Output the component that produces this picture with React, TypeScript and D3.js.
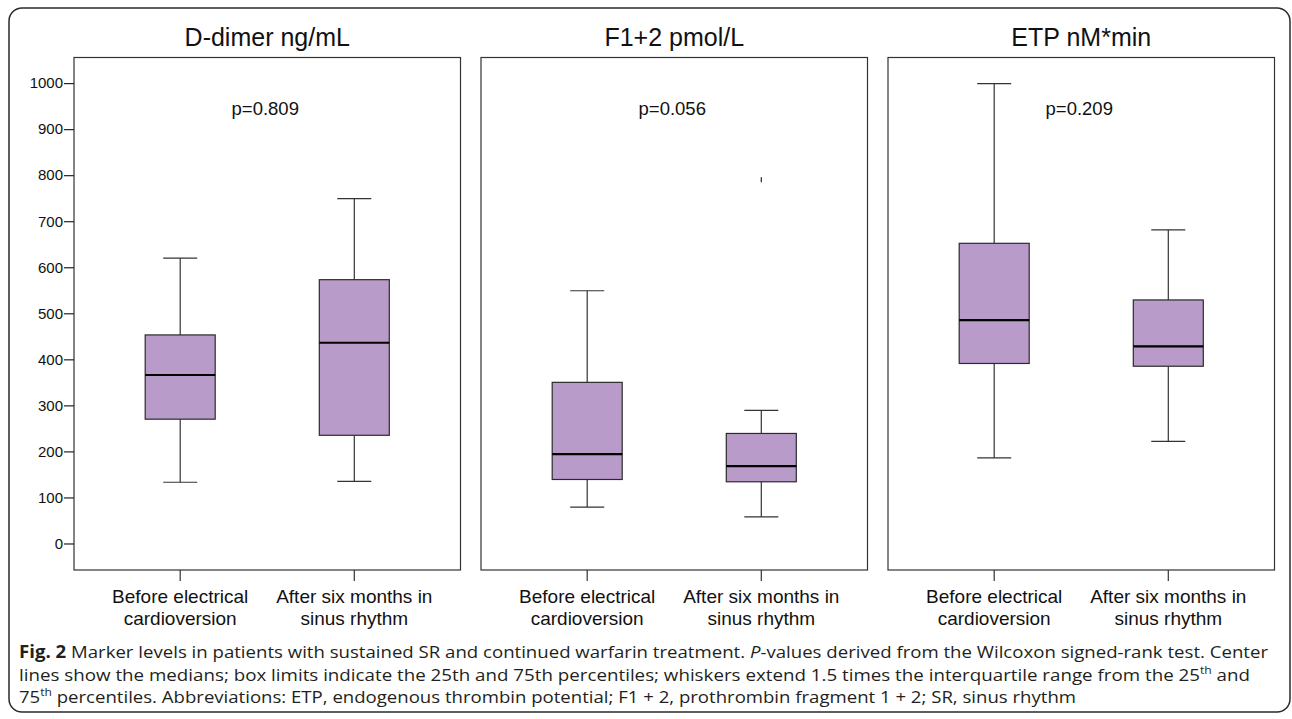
import React, { useEffect, useRef } from 'react';
import * as d3 from 'd3';

// Chart data
const panelTitles = ["D-dimer ng/mL", "F1+2 pmol/L", "ETP nM*min"];
const pValues = ["p=0.809", "p=0.056", "p=0.209"];
const groups = ["Before", "After"];
const groupLabels = [["Before electrical", "cardioversion"], ["After six months in", "sinus rhythm"]];

const whiskerLow = [[133, 135], [79, 58], [186, 222]];
const q1 = [[270, 235], [139, 134], [391, 385]];
const median = [[366, 436], [194, 168], [485, 428]];
const q3 = [[453, 573], [350, 239], [652, 529]];
const whiskerHigh = [[620, 749], [549, 289], [999, 681]];
const outliers = [[[], []], [[], [790]], [[], []]];

const yTicks = [0, 100, 200, 300, 400, 500, 600, 700, 800, 900, 1000];

function App() {
    const d3Container = useRef(null);

    useEffect(() => {
        if (!d3Container.current) return;
        d3.select(d3Container.current).selectAll("*").remove();

        const width = 1292, height = 719;
        const font = "'Liberation Sans', Arial, Helvetica, sans-serif";

        const svg = d3.select(d3Container.current)
            .append("svg")
            .attr("width", width)
            .attr("height", height)
            .style("display", "block");

        // outer rounded frame
        svg.append("rect")
            .attr("x", 9).attr("y", 8)
            .attr("width", 1281).attr("height", 704)
            .attr("rx", 13)
            .attr("fill", "none")
            .attr("stroke", "#2a2a2a")
            .attr("stroke-width", 1.5);

        // shared y scale
        const plotTop = 57.5, plotBottom = 570;
        const y = d3.scaleLinear().domain([-57.6, 1055.6]).range([plotBottom, plotTop]);

        const panelW = 386.5, gap = 20.5, firstLeft = 74;
        const boxW = 70, capW = 34;

        panelTitles.forEach((title, p) => {
            const left = firstLeft + p * (panelW + gap);
            const x = d3.scalePoint().domain(groups).range([left, left + panelW]).padding(0.61);
            const g = svg.append("g");
            const cx = left + panelW / 2;

            g.append("text")
                .attr("x", cx).attr("y", 46)
                .attr("text-anchor", "middle")
                .attr("font-family", font)
                .attr("font-size", 25)
                .attr("fill", "#111")
                .text(title);

            g.append("text")
                .attr("x", cx - 2).attr("y", 115)
                .attr("text-anchor", "middle")
                .attr("font-family", font)
                .attr("font-size", 18.5)
                .attr("fill", "#111")
                .text(pValues[p]);

            // plot frame
            g.append("rect")
                .attr("x", left).attr("y", plotTop)
                .attr("width", panelW).attr("height", plotBottom - plotTop)
                .attr("fill", "none")
                .attr("stroke", "#333")
                .attr("stroke-width", 1.2);

            // x ticks + labels
            groups.forEach((grp, i) => {
                const gx = x(grp);
                g.append("line")
                    .attr("x1", gx).attr("x2", gx)
                    .attr("y1", plotBottom).attr("y2", plotBottom + 11)
                    .attr("stroke", "#333").attr("stroke-width", 1.2);
                const t = g.append("text")
                    .attr("text-anchor", "middle")
                    .attr("font-family", font)
                    .attr("font-size", 19)
                    .attr("fill", "#111");
                groupLabels[i].forEach((line, k) => {
                    t.append("tspan").attr("x", gx).attr("y", 603 + k * 21.5).text(line);
                });

                // whiskers
                const stroke = "#333";
                g.append("line")
                    .attr("x1", gx).attr("x2", gx)
                    .attr("y1", y(whiskerHigh[p][i])).attr("y2", y(q3[p][i]))
                    .attr("stroke", stroke).attr("stroke-width", 1.2);
                g.append("line")
                    .attr("x1", gx).attr("x2", gx)
                    .attr("y1", y(q1[p][i])).attr("y2", y(whiskerLow[p][i]))
                    .attr("stroke", stroke).attr("stroke-width", 1.2);
                [whiskerHigh[p][i], whiskerLow[p][i]].forEach(v => {
                    g.append("line")
                        .attr("x1", gx - capW / 2).attr("x2", gx + capW / 2)
                        .attr("y1", y(v)).attr("y2", y(v))
                        .attr("stroke", stroke).attr("stroke-width", 1.2);
                });

                // box
                g.append("rect")
                    .attr("x", gx - boxW / 2)
                    .attr("y", y(q3[p][i]))
                    .attr("width", boxW)
                    .attr("height", y(q1[p][i]) - y(q3[p][i]))
                    .attr("fill", "#b99bc9")
                    .attr("stroke", "#2b2b2b")
                    .attr("stroke-width", 1.2);

                // median
                g.append("line")
                    .attr("x1", gx - boxW / 2).attr("x2", gx + boxW / 2)
                    .attr("y1", y(median[p][i])).attr("y2", y(median[p][i]))
                    .attr("stroke", "#000").attr("stroke-width", 2.2);

                // outliers
                outliers[p][i].forEach(v => {
                    g.append("line")
                        .attr("x1", gx).attr("x2", gx)
                        .attr("y1", y(v) - 2.5).attr("y2", y(v) + 2.5)
                        .attr("stroke", "#222").attr("stroke-width", 1.2);
                });
            });

            // y axis on first panel only
            if (p === 0) {
                const ax = g.append("g").attr("transform", `translate(${left},0)`)
                    .call(d3.axisLeft(y).tickValues(yTicks).tickSize(10).tickFormat(d3.format("d")));
                ax.select(".domain").remove();
                ax.selectAll("line").attr("stroke", "#222").attr("stroke-width", 1.2);
                ax.selectAll("text")
                    .attr("font-family", font)
                    .attr("font-size", 15)
                    .attr("fill", "#111")
                    .attr("x", -11);
            }
        });

        // caption
        const capFont = "'Open Sans', 'Noto Sans', sans-serif";
        const l1 = svg.append("text")
            .attr("x", 19).attr("y", 658)
            .attr("font-family", capFont).attr("font-size", 17).attr("fill", "#231f20")
            .attr("textLength", 1249).attr("lengthAdjust", "spacingAndGlyphs");
        l1.append("tspan").attr("font-weight", "bold").text("Fig. 2");
        l1.append("tspan").text(" Marker levels in patients with sustained SR and continued warfarin treatment. ");
        l1.append("tspan").attr("font-style", "italic").text("P");
        l1.append("tspan").text("-values derived from the Wilcoxon signed-rank test. Center");

        const l2 = svg.append("text")
            .attr("x", 19).attr("y", 681)
            .attr("font-family", capFont).attr("font-size", 17).attr("fill", "#231f20")
            .attr("textLength", 1231).attr("lengthAdjust", "spacingAndGlyphs");
        l2.append("tspan").text("lines show the medians; box limits indicate the 25th and 75th percentiles; whiskers extend 1.5 times the interquartile range from the 25");
        l2.append("tspan").attr("font-size", 11).attr("dy", -7).text("th");
        l2.append("tspan").attr("dy", 7).text(" and");

        const l3 = svg.append("text")
            .attr("x", 19).attr("y", 703)
            .attr("font-family", capFont).attr("font-size", 17).attr("fill", "#231f20")
            .attr("textLength", 1057).attr("lengthAdjust", "spacingAndGlyphs");
        l3.append("tspan").text("75");
        l3.append("tspan").attr("font-size", 11).attr("dy", -7).text("th");
        l3.append("tspan").attr("dy", 7).text(" percentiles. Abbreviations: ETP, endogenous thrombin potential; F1 + 2, prothrombin fragment 1 + 2; SR, sinus rhythm");
    }, []);

    return (
        <div style={{ position: "absolute", left: 0, top: 0 }}>
            <div ref={d3Container} />
        </div>
    );
}

export default App;
